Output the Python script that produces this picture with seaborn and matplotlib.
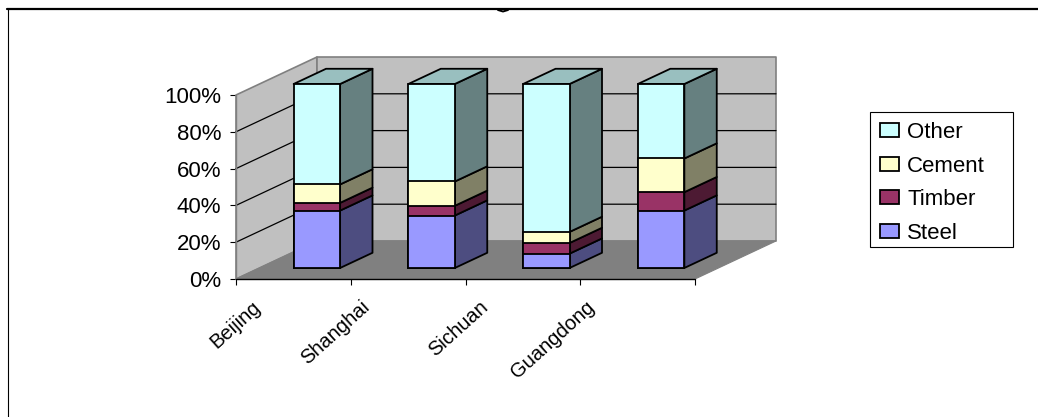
import matplotlib
matplotlib.use("Agg")
import matplotlib.pyplot as plt
from matplotlib.lines import Line2D
from matplotlib.patches import Patch, Rectangle
from matplotlib.transforms import Affine2D, ScaledTranslation
import pandas as pd
import seaborn as sns

categories = ["Beijing", "Shanghai", "Sichuan", "Guangdong"]
steel = [31.2, 28.5, 7.8, 31.2]
timber = [4.2, 5.3, 5.8, 10.0]
cement = [10.0, 13.2, 6.0, 18.3]
other = [54.6, 53.0, 80.4, 40.5]
series_names = ["Steel", "Timber", "Cement", "Other"]
y_ticks = [0, 20, 40, 60, 80, 100]

front_colors = ["#9999FF", "#993366", "#FFFFCC", "#CCFFFF"]
side_colors = ["#4D4D80", "#4D1A33", "#808066", "#668080"]
top_color = "#99BFBF"

W, H = 1038, 417
sns.set_style("white")
plt.rcParams["font.family"] = ["Liberation Sans", "DejaVu Sans"]

fig = plt.figure(figsize=(W / 100, H / 100), dpi=100)
# the axes is the front plane of the fake 3d box
ax = fig.add_axes([236 / W, 1 - 279 / H, 459 / W, 184 / H])
ax.set_facecolor("none")

# depth of the box and of the bars, in data units
depth_x = 81 / 114.75
depth_y = 38 / 1.84
bar_near = 0.29
bar_far = 0.69
bar_width = 0.405


def shift(x, y, d):
    return x + d * depth_x, y + d * depth_y


def face(pts, color, edge="black", lw=1.3, z=3):
    xs, ys = zip(*pts)
    ax.fill(xs, ys, facecolor=color, edgecolor=edge, linewidth=lw, zorder=z,
            clip_on=False, joinstyle="round")


# walls and floor
x0, x1 = -0.5, len(categories) - 0.5
face([shift(x0, 0, 0), shift(x0, 0, 1), shift(x0, 100, 1), shift(x0, 100, 0)], "#C0C0C0", "#808080", 1.2, 1)
face([shift(x0, 0, 1), shift(x1, 0, 1), shift(x1, 100, 1), shift(x0, 100, 1)], "#C0C0C0", "#808080", 1.2, 1)
face([shift(x0, 0, 0), shift(x1, 0, 0), shift(x1, 0, 1), shift(x0, 0, 1)], "#808080", "#808080", 0.8, 1)
for t in y_ticks[1:-1]:
    xs, ys = zip(shift(x0, t, 0), shift(x0, t, 1), shift(x1, t, 1))
    ax.plot(xs, ys, color="black", lw=0.9, zorder=2, clip_on=False)

# stacked bars, tallest stack first so the lower ones paint over it
stacks = [steel, timber, cement, other]
tops = []
running = [0] * len(categories)
for values in stacks:
    running = [a + b for a, b in zip(running, values)]
    tops.append(running)

off = Affine2D().translate(bar_near * depth_x, bar_near * depth_y)
for i in range(len(stacks) - 1, -1, -1):
    df = pd.DataFrame({"city": categories, "value": tops[i]})
    before = len(ax.patches)
    sns.barplot(data=df, x="city", y="value", order=categories, color=front_colors[i],
                saturation=1, width=bar_width, edgecolor="black", linewidth=1.3,
                zorder=4 + (len(stacks) - i) * 0.1, ax=ax, errorbar=None)
    for p in ax.patches[before:]:
        p.set_transform(off + ax.transData)
        p.set_clip_on(False)

# side and top faces of each bar
for c in range(len(categories)):
    left = c - bar_width / 2 + bar_near * depth_x
    right = left + bar_width
    base = bar_near * depth_y
    d = bar_far - bar_near
    low = 0
    for i in range(len(stacks)):
        high = tops[i][c]
        face([(right, base + low), shift(right, base + low, d),
              shift(right, base + high, d), (right, base + high)], side_colors[i])
        low = high
    face([(left, base + low), (right, base + low), shift(right, base + low, d),
          shift(left, base + low, d)], top_color)

ax.set_xlim(x0, x1)
ax.set_ylim(0, 100)
ax.set_xlabel("")
ax.set_ylabel("")
sns.despine(ax=ax, left=True, bottom=True, top=True, right=True)

ax.set_yticks(y_ticks)
ax.set_yticklabels([f"{t}%" for t in y_ticks], fontsize=16, color="black")
ax.set_xticks([x0 + k for k in range(len(categories) + 1)])
ax.set_xticklabels(categories + [""], fontsize=14.5, color="black", rotation=42,
                   ha="right", rotation_mode="anchor")
ax.tick_params(axis="both", length=4, width=0.8, color="black", left=True, bottom=True)
ax.tick_params(axis="y", pad=6.5)
ax.tick_params(axis="x", pad=9)
nudge = [16, 10, 14, 5, 0]
for lab, n in zip(ax.get_xticklabels(), nudge):
    lab.set_transform(lab.get_transform() + ScaledTranslation(n / 100, 0, fig.dpi_scale_trans))

ax.add_line(Line2D([x0, x0], [0, 100], color="#808080", lw=1.0, zorder=2, clip_on=False))
ax.add_line(Line2D([x0, x1], [0, 0], color="black", lw=1.0, zorder=2, clip_on=False))

# legend box drawn by hand so its size does not follow the narrower letters
fig.add_artist(Rectangle((870 / W, 1 - 247 / H), 143 / W, 135 / H, transform=fig.transFigure,
                         facecolor="white", edgecolor="black", linewidth=0.8, zorder=5))
handles = [Patch(facecolor=front_colors[i], edgecolor="black", linewidth=1.3, label=series_names[i])
           for i in range(3, -1, -1)]
leg = fig.legend(handles=handles, loc="upper left", bbox_to_anchor=(880 / W, 1 - 122 / H),
                 borderaxespad=0, frameon=False, fontsize=16, labelcolor="black",
                 handlelength=0.86, handleheight=0.62, handletextpad=0.36,
                 labelspacing=0.565, borderpad=0)
leg.set_zorder(6)

# picture frame, cut off at the top of the chart
fig.add_artist(Line2D([7 / W, 1], [1 - 9 / H, 1 - 9 / H], color="black", lw=1.6))
fig.add_artist(Line2D([8 / W, 8 / W], [0, 1 - 9 / H], color="black", lw=0.8))
# the tail of the chart title pokes out under the frame line
fig.add_artist(Line2D([498 / W, 503 / W, 508 / W], [1 - 10 / H, 1 - 11.5 / H, 1 - 10 / H],
                      color="black", lw=1.4))

fig.savefig("out.png", dpi=100)
